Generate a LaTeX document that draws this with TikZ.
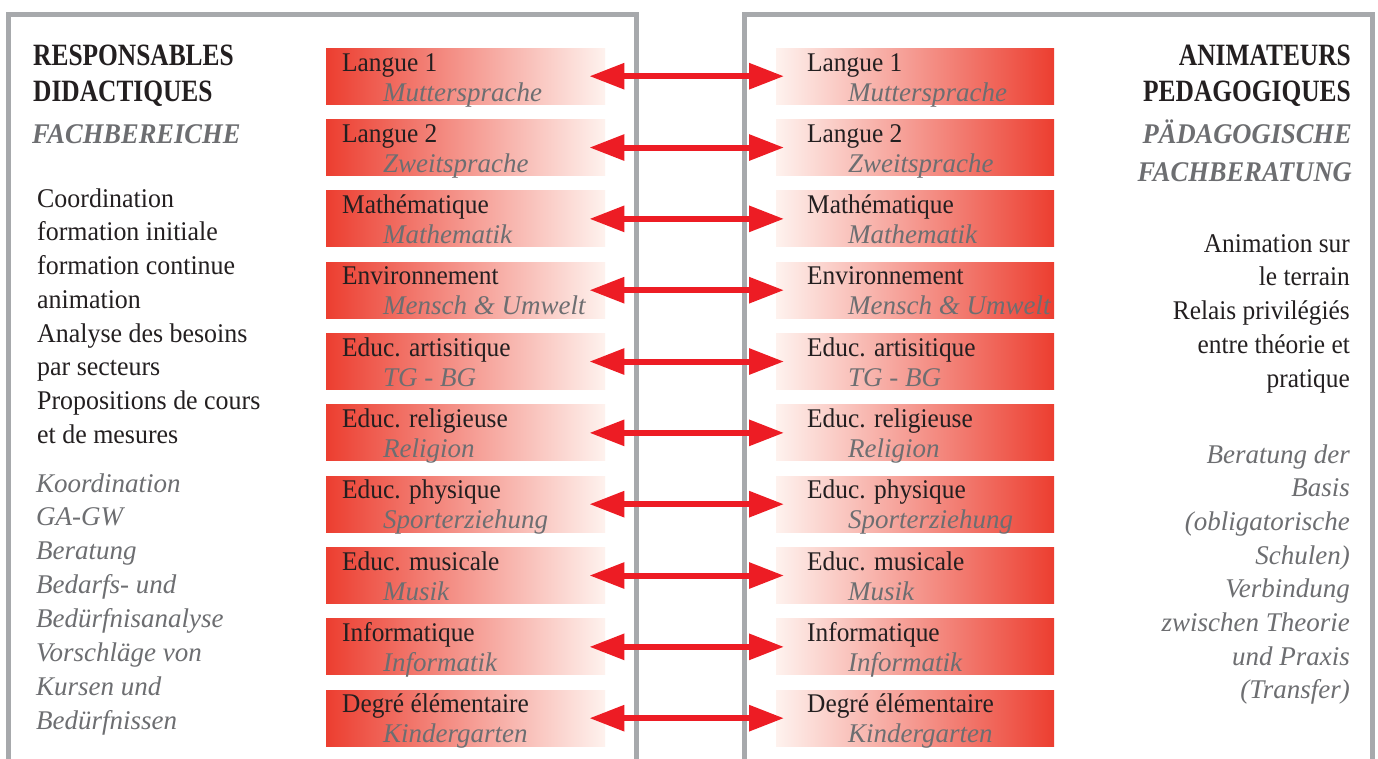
\documentclass[tikz,border=0pt]{standalone}
\usepackage{fontspec}
\setmainfont{Liberation Serif}
\newfontfamily\bodyrm{Liberation Serif}[FakeStretch=0.94]
\newfontfamily\colrm{Liberation Serif}[FakeStretch=0.96]
\newfontfamily\bodyit{Liberation Serif}
\newfontfamily\headrm{Liberation Serif}[FakeStretch=0.82]
\newfontfamily\headit{Liberation Serif}[FakeStretch=0.93]
\usetikzlibrary{arrows.meta}
\definecolor{txt}{RGB}{35,31,32}
\definecolor{gtxt}{RGB}{109,110,113}
\definecolor{framegray}{RGB}{167,169,172}
\definecolor{boxred}{RGB}{236,62,48}
\definecolor{boxpale}{RGB}{254,242,238}
\definecolor{arrred}{RGB}{237,28,36}
\newcommand{\LLines}[2][33.75pt]{\vtop{\baselineskip=#1\lineskiplimit=-60pt\halign{##\hfil\cr#2\crcr}}}
\newcommand{\RLines}[2][33.75pt]{\vtop{\baselineskip=#1\lineskiplimit=-60pt\halign{\hfil##\cr#2\crcr}}}
\begin{document}
\begin{tikzpicture}[x=1pt,y=-1pt,
  frameline/.style={draw=framegray, line width=5pt, line join=miter},
  lbox/.style={anchor=north west, minimum width=279pt, minimum height=56pt, inner sep=0pt, left color=boxred, right color=boxpale, draw=none},
  rbox/.style={anchor=north west, minimum width=278pt, minimum height=56pt, inner sep=0pt, left color=boxpale, right color=boxred, draw=none},
  frtxt/.style={anchor=base west, inner sep=0pt, text=txt, font=\bodyrm\fontsize{27}{33}\selectfont},
  detxt/.style={anchor=base west, inner sep=0pt, text=gtxt, font=\bodyit\itshape\fontsize{27}{33}\selectfont},
  arr/.style={draw=arrred, line width=6pt, {Triangle[length=35pt,width=25pt]}-{Triangle[length=35pt,width=25pt]}},
  headL/.style={anchor=base west, inner sep=0pt, text=txt, font=\headrm\bfseries\fontsize{31}{36}\selectfont},
  headR/.style={anchor=base east, inner sep=0pt, text=txt, font=\headrm\bfseries\fontsize{31}{36}\selectfont},
  hitL/.style={anchor=base west, inner sep=0pt, text=gtxt, font=\headit\bfseries\itshape\fontsize{28.5}{36}\selectfont},
  hitR/.style={anchor=base east, inner sep=0pt, text=gtxt, font=\headit\bfseries\itshape\fontsize{28.5}{36}\selectfont},
  bodyL/.style={anchor=base west, inner sep=0pt, text=txt, font=\colrm\fontsize{27}{33}\selectfont},
  bodyR/.style={anchor=base east, inner sep=0pt, text=txt, font=\bodyrm\fontsize{27}{33}\selectfont},
  gerL/.style={anchor=base west, inner sep=0pt, text=gtxt, font=\bodyit\itshape\fontsize{27}{33}\selectfont},
  gerR/.style={anchor=base east, inner sep=0pt, text=gtxt, font=\bodyit\itshape\fontsize{27}{33}\selectfont}
]
\useasboundingbox (0,0) rectangle (1378,758);
\fill[white] (0,0) rectangle (1378,758);
% frames
\draw[frameline] (8,765) -- (8,14) -- (636,14) -- (636,765);
\draw[frameline] (744,765) -- (744,14) -- (1372,14) -- (1372,765);
% left column
\node[headL] (lh) at (33,65) {\LLines[36pt]{RESPONSABLES\cr DIDACTIQUES}};
\node[hitL] (lhg) at (32,143) {FACHBEREICHE};
\node[bodyL] (lb) at (37,207) {\LLines{Coordination\cr formation initiale\cr formation continue\cr animation\cr Analyse des besoins\cr par secteurs\cr Propositions de cours\cr et de mesures}};
\node[gerL] (lg) at (36,492) {\LLines[33.9pt]{Koordination\cr GA-GW\cr Beratung\cr Bedarfs- und\cr Bedürfnisanalyse\cr Vorschläge von\cr Kursen und\cr Bedürfnissen}};
% right column
\node[headR] (rh) at (1351,65) {\RLines[36pt]{ANIMATEURS\cr PEDAGOGIQUES}};
\node[hitR] (rhg) at (1352,143) {\RLines[38pt]{PÄDAGOGISCHE\cr FACHBERATUNG}};
\node[bodyR] (rb) at (1350,252) {\RLines{Animation sur\cr le terrain\cr Relais privilégiés\cr entre théorie et\cr pratique}};
\node[gerR] (rg) at (1350,463) {\RLines[33.7pt]{Beratung der\cr Basis\cr (obligatorische\cr Schulen)\cr Verbindung\cr zwischen Theorie\cr und Praxis\cr (Transfer)}};
% boxes and arrows
\foreach \fr/\de [count=\i from 0] in {Langue 1/Muttersprache, Langue 2/Zweitsprache, Mathématique/Mathematik, Environnement/Mensch \& Umwelt, Educ. artisitique/TG - BG, Educ. religieuse/Religion, Educ. physique/Sporterziehung, Educ. musicale/Musik, Informatique/Informatik, Degré élémentaire/Kindergarten}{
  \pgfmathsetmacro\yy{48+71.33*\i}
  \node[lbox] (L\i) at (326,\yy) {};
  \node[rbox] (R\i) at (776,\yy) {};
  \node[frtxt] (Lf\i) at ([xshift=16pt,yshift=-23pt]L\i.north west) {\fr};
  \node[detxt] (Ld\i) at ([xshift=57pt,yshift=-53pt]L\i.north west) {\de};
  \node[frtxt] (Rf\i) at ([xshift=31pt,yshift=-23pt]R\i.north west) {\fr};
  \node[detxt] (Rd\i) at ([xshift=72pt,yshift=-53pt]R\i.north west) {\de};
  \draw[arr] ([xshift=-16pt]L\i.east) -- ([xshift=8pt]R\i.west);
}
\end{tikzpicture}
\end{document}
